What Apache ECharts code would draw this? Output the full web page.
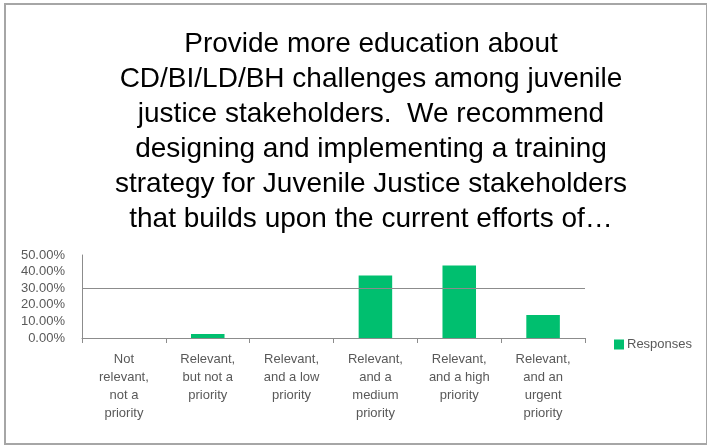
<!DOCTYPE html>
<html>
<head>
<meta charset="utf-8">
<script src="https://cdn.jsdelivr.net/npm/echarts@6/dist/echarts.min.js"></script>
<style>
  html, body { margin: 0; padding: 0; background: #fff; }
</style>
</head>
<body>
<div id="main" style="width: 707px; height: 445px"></div>
<script>
// data
var titleLines = [
  'Provide more education about',
  'CD/BI/LD/BH challenges among juvenile',
  'justice stakeholders.  We recommend',
  'designing and implementing a training',
  'strategy for Juvenile Justice stakeholders',
  'that builds upon the current efforts of\u2026'
];
var categories = [
  'Not\nrelevant,\nnot a\npriority',
  'Relevant,\nbut not a\npriority',
  'Relevant,\nand a low\npriority',
  'Relevant,\nand a\nmedium\npriority',
  'Relevant,\nand a high\npriority',
  'Relevant,\nand an\nurgent\npriority'
];
var responses = [0, 0.024, 0, 0.377, 0.436, 0.139];
var seriesName = 'Responses';

var chart = echarts.init(document.getElementById('main'));
var grey = '#8c8c8c';
var labelColor = '#595959';

var option = {
  animation: false,
  backgroundColor: '#fff',
  title: {
    text: titleLines.join('\n'),
    left: 366,
    top: 22,
    textAlign: 'center',
    textStyle: {
      fontFamily: 'Liberation Sans',
      fontSize: 28,
      fontWeight: 'normal',
      color: '#000',
      lineHeight: 35
    }
  },
  legend: {
    data: [seriesName],
    left: 609,
    top: 333,
    itemWidth: 10,
    itemHeight: 10,
    itemGap: 4,
    icon: 'rect',
    textStyle: { fontFamily: 'Liberation Sans', fontSize: 13, color: labelColor, padding: [0, 0, 0, -2] }
  },
  grid: { left: 82, right: 122, top: 255, bottom: 107 },
  xAxis: {
    type: 'category',
    data: categories,
    axisLine: { lineStyle: { color: grey } },
    axisTick: { show: true, length: 5, lineStyle: { color: grey } },
    axisLabel: {
      interval: 0,
      margin: 12,
      fontFamily: 'Liberation Sans',
      fontSize: 13,
      lineHeight: 18,
      color: labelColor
    }
  },
  yAxis: {
    type: 'value',
    min: 0,
    max: 0.5,
    interval: 0.1,
    axisLine: { show: true, lineStyle: { color: grey } },
    axisTick: { show: false },
    splitLine: { show: false },
    axisLabel: {
      margin: 17,
      fontFamily: 'Liberation Sans',
      fontSize: 13,
      color: labelColor,
      formatter: function (v) { return (v * 100).toFixed(2) + '%'; }
    }
  },
  series: [{
    name: seriesName,
    type: 'bar',
    data: responses,
    barWidth: '40%',
    itemStyle: { color: '#00bf6f' },
    markLine: {
      silent: true,
      symbol: 'none',
      label: { show: false },
      lineStyle: { color: grey, type: 'solid', width: 1 },
      data: [{ yAxis: 0.3 }]
    }
  }],
  graphic: [{
    type: 'rect',
    shape: { x: 5, y: 4, width: 702, height: 440 },
    style: { fill: 'none', stroke: '#a6a6a6', lineWidth: 2 },
    silent: true
  }]
};
chart.setOption(option);
</script>
</body>
</html>
